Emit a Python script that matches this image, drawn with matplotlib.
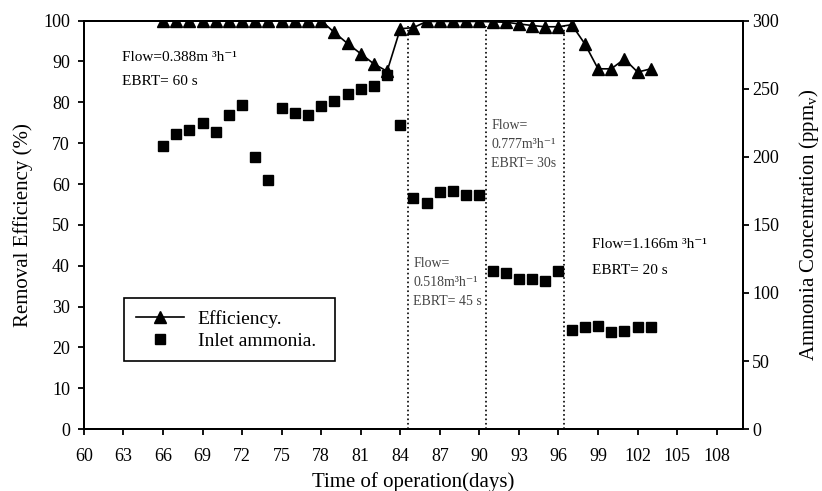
import matplotlib
matplotlib.use("Agg")
import matplotlib.pyplot as plt
from matplotlib.lines import Line2D

plt.rcParams['font.family'] = ['Liberation Serif', 'DejaVu Serif']

# data
days_eff = [66, 67, 68, 69, 70, 71, 72, 73, 74, 75, 76, 77, 78, 79, 80, 81, 82, 83, 84, 85,
            86, 87, 88, 89, 90, 91, 92, 93, 94, 95, 96, 97, 98, 99, 100, 101, 102, 103]
efficiency = [100, 100, 100, 100, 100, 100, 100, 100, 100, 100, 100, 100, 100, 97.1, 94.4, 91.9,
              89.4, 87.6, 98.0, 98.3, 99.8, 99.8, 99.8, 99.8, 99.8, 99.7, 99.6, 99.2, 98.8, 98.5,
              98.5, 99.0, 94.3, 88.2, 88.2, 90.6, 87.4, 88.2]

days_nh3 = [66, 67, 68, 69, 70, 71, 72, 73, 74, 75, 76, 77, 78, 79, 80, 81, 82, 83, 84, 85,
            86, 87, 88, 89, 90, 91, 92, 93, 94, 95, 96, 97, 98, 99, 100, 101, 102, 103]
inlet_nh3 = [208, 217, 220, 225, 218, 231, 238, 200, 183, 236, 232, 231, 237, 241, 246, 250,
             252, 260, 223, 170, 166, 174, 175, 172, 172, 116, 115, 110.5, 110.5, 109, 116,
             73, 75, 76, 71, 72, 75, 75]

phase_bounds = [84.6, 90.5, 96.4]

fig = plt.figure(figsize=(8.22, 4.91), dpi=100)
ax = fig.add_axes([0.102, 0.126, 0.802, 0.832])
ax2 = ax.twinx()

ax.plot(days_eff, efficiency, color='k', lw=1.2, marker='^', ms=8.5, zorder=3)
ax2.plot(days_nh3, inlet_nh3, ls='none', marker='s', color='k', ms=7.5, zorder=3)

for xb in phase_bounds:
    ax.plot([xb, xb], [0, 98.7], color='k', ls=':', lw=1.2)

ax.set_xlim(60, 110)
ax.set_ylim(0, 100)
ax2.set_ylim(0, 300)
ax.set_xticks(range(60, 109, 3))
ax.set_yticks(range(0, 101, 10))
ax2.set_yticks(range(0, 301, 50))

for a in (ax, ax2):
    a.tick_params(direction='out', length=4.5, width=1.3, labelsize=13)
    for s in a.spines.values():
        s.set_linewidth(1.4)
ax.tick_params(axis='x', pad=9)
ax.tick_params(axis='y', pad=5.5)
ax2.tick_params(axis='y', pad=2)

ax.set_xlabel("Time of operation(days)", fontsize=15, labelpad=5)
ax.set_ylabel("Removal Efficiency (%)", fontsize=15, labelpad=7)
ax2.set_ylabel("Ammonia Concentration (ppm$_\\mathregular{v}$)", fontsize=15, labelpad=13)

# phase annotations
ax.text(62.9, 91.0, "Flow=0.388m \u00b3h\u207b\u00b9", fontsize=11, va='center')
ax.text(62.9, 85.0, "EBRT= 60 s", fontsize=11, va='center')
ax.text(85.0, 35.8, "Flow=\n0.518m\u00b3h\u207b\u00b9\nEBRT= 45 s", fontsize=10,
        color='#444444', va='center', linespacing=1.6)
ax.text(90.9, 69.7, "Flow=\n0.777m\u00b3h\u207b\u00b9\nEBRT= 30s", fontsize=10,
        color='#444444', va='center', linespacing=1.6)
ax.text(98.55, 45.2, "Flow=1.166m \u00b3h\u207b\u00b9", fontsize=11, va='center')
ax.text(98.55, 38.8, "EBRT= 20 s", fontsize=11, va='center')

handles = [Line2D([], [], color='k', lw=1.2, marker='^', ms=8.5),
           Line2D([], [], color='k', ls='none', marker='s', ms=7.5)]
leg = ax.legend(handles, ["Efficiency.", "Inlet ammonia."], loc='upper left',
                bbox_to_anchor=(0.0607, 0.3207, 0.32, 0.0), mode='expand',
                borderaxespad=0, fontsize=14, fancybox=False,
                edgecolor='k', framealpha=1, borderpad=0.6, handlelength=2.5,
                handletextpad=0.7, labelspacing=0.22)
leg.get_frame().set_linewidth(1.2)

fig.savefig("out.png", dpi=100)
